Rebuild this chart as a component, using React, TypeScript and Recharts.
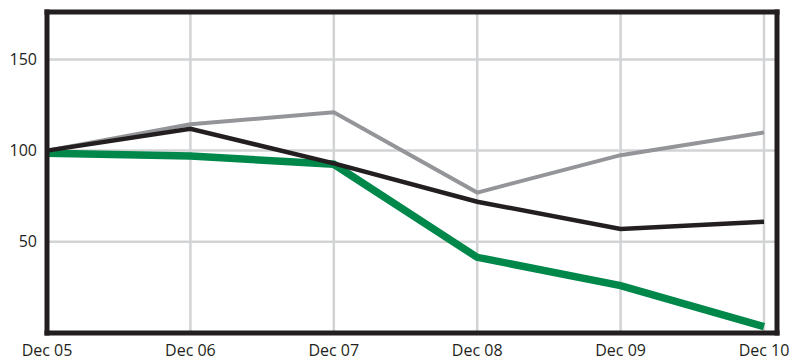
import { LineChart, Line, XAxis, YAxis, CartesianGrid } from "recharts";

const INK = "#231f20";
const GREY = "#939598";
const GREEN = "#00884b";
const GRID = "#d1d3d4";

const days = ["Dec 05", "Dec 06", "Dec 07", "Dec 08", "Dec 09", "Dec 10"];
const greySeries = [100, 114.5, 121, 77, 97.5, 110];
const blackSeries = [100, 112, 93, 72, 57, 61];
const greenSeries = [98.5, 97, 92.5, 41.5, 26, 3.5];
const yTicks = [50, 100, 150];

const data = days.map((d, i) => ({
  day: d,
  grey: greySeries[i],
  black: blackSeries[i],
  green: greenSeries[i],
}));

const frame = { stroke: INK, strokeWidth: 5, strokeLinecap: "square" as const };
const tickStyle = { fontSize: 16, fill: INK, fontFamily: "Open Sans, sans-serif" };

export default function App() {
  return (
    <div style={{ position: "absolute", left: 0, top: 0 }}>
      <LineChart width={791} height={362} data={data} margin={{ top: 11, right: 13, bottom: 0, left: 0 }}>
        <CartesianGrid stroke={GRID} strokeWidth={2.5} />
        <XAxis
          dataKey="day"
          padding={{ left: 0, right: 13 }}
          height={29}
          axisLine={frame}
          tickLine={false}
          tickSize={0}
          tickMargin={12}
          tick={tickStyle}
          interval={0}
        />
        <XAxis xAxisId="top" orientation="top" dataKey="day" height={1} tick={false} tickLine={false} axisLine={frame} padding={{ left: 0, right: 13 }} />
        <YAxis
          domain={[0, 176]}
          ticks={yTicks}
          width={47}
          axisLine={frame}
          tickLine={false}
          tickSize={0}
          tickMargin={10}
          tick={tickStyle}
        />
        <YAxis yAxisId="right" orientation="right" domain={[0, 176]} width={1} tick={false} tickLine={false} axisLine={frame} />
        <Line dataKey="grey" stroke={GREY} strokeWidth={4} dot={false} strokeLinejoin="miter" isAnimationActive={false} />
        <Line dataKey="green" stroke={GREEN} strokeWidth={7.5} dot={false} strokeLinejoin="miter" isAnimationActive={false} />
        <Line dataKey="black" stroke={INK} strokeWidth={4.5} dot={false} strokeLinejoin="miter" isAnimationActive={false} />
      </LineChart>
    </div>
  );
}
